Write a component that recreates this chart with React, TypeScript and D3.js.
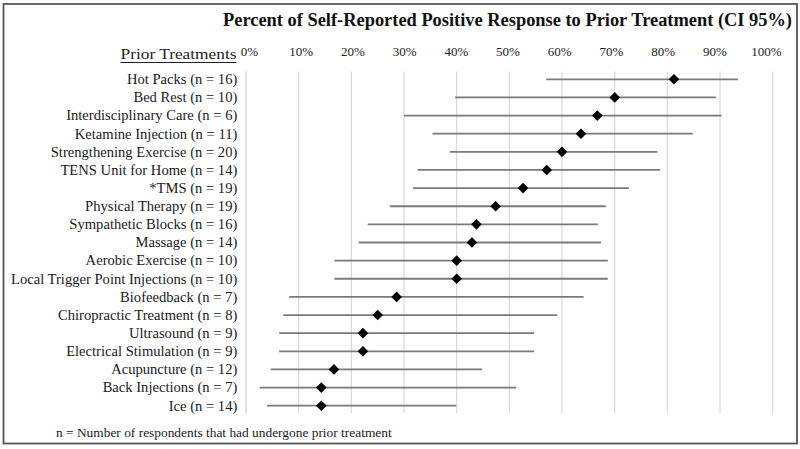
import React from "react";
import * as d3 from "d3";

const categories = [
  "Hot Packs (n = 16)",
  "Bed Rest (n = 10)",
  "Interdisciplinary Care (n = 6)",
  "Ketamine Injection (n = 11)",
  "Strengthening Exercise (n = 20)",
  "TENS Unit for Home (n = 14)",
  "*TMS (n = 19)",
  "Physical Therapy (n = 19)",
  "Sympathetic Blocks (n = 16)",
  "Massage (n = 14)",
  "Aerobic Exercise (n = 10)",
  "Local Trigger Point Injections (n = 10)",
  "Biofeedback (n = 7)",
  "Chiropractic Treatment (n = 8)",
  "Ultrasound (n = 9)",
  "Electrical Stimulation (n = 9)",
  "Acupuncture (n = 12)",
  "Back Injections (n = 7)",
  "Ice (n = 14)",
];

const pointValues = [81.25, 70, 66.7, 63.6, 60, 57.1, 52.6, 47.4, 43.75, 42.9, 40, 40, 28.6, 25, 22.2, 22.2, 16.7, 14.3, 14.3];
const lowerValues = [57.0, 39.7, 30.0, 35.4, 38.7, 32.6, 31.7, 27.3, 23.1, 21.4, 16.8, 16.8, 8.2, 7.1, 6.3, 6.3, 4.7, 2.6, 4.0];
const upperValues = [93.4, 89.2, 90.3, 84.8, 78.1, 78.6, 72.7, 68.3, 66.8, 67.4, 68.7, 68.7, 64.1, 59.1, 54.7, 54.7, 44.8, 51.3, 39.9];
const tickValues = [0, 10, 20, 30, 40, 50, 60, 70, 80, 90, 100];

const titleText = "Percent of Self-Reported Positive Response to Prior Treatment (CI 95%)";
const axisTitle = "Prior Treatments";
const footnote = "n = Number of respondents that had undergone prior treatment";

export default function App() {
  const x = d3.scaleLinear().domain([0, 100]).range([246, 772.7]);
  const xLabel = d3.scaleLinear().domain([0, 100]).range([249.5, 766.5]);
  const y = d3.scalePoint<string>().domain(categories).range([79.3, 405.7]);
  const font = "'Liberation Serif', 'Times New Roman', serif";
  const diamond = d3.symbol().type(d3.symbolDiamond2).size(72)();

  return (
    <svg width={800} height={449} style={{ position: "absolute", left: 0, top: 0, background: "#fff" }} fontFamily={font}>
      <rect x={0} y={0} width={800} height={449} fill="#fff" />
      <rect x={3.5} y={4} width={793.5} height={439.5} fill="none" stroke="#555" strokeWidth={1.8} />
      <text x={792} y={26} textAnchor="end" fontSize={18} fontWeight="bold" fill="#111" textLength={569} lengthAdjust="spacingAndGlyphs">
        {titleText}
      </text>
      {tickValues.map((t) => (
        <line key={"g" + t} x1={x(t)} x2={x(t)} y1={71.5} y2={413} stroke={t === 0 ? "#cfcfcf" : "#dcdcdc"} strokeWidth={1.3} />
      ))}
      {tickValues.map((t) => (
        <text key={"t" + t} x={xLabel(t)} y={56} textAnchor="middle" fontSize={13} fill="#222">
          {t + "%"}
        </text>
      ))}
      <text x={236.5} y={59} textAnchor="end" fontSize={15.5} fill="#222" textLength={116} lengthAdjust="spacingAndGlyphs">
        {axisTitle}
      </text>
      <line x1={120.5} x2={236.5} y1={62.5} y2={62.5} stroke="#222" strokeWidth={1} />
      {categories.map((c, i) => (
        <g key={c}>
          <text x={237.3} y={(y(c) as number) + 4.8} textAnchor="end" fontSize={14.6} fill="#1a1a1a">
            {c}
          </text>
          <line x1={x(lowerValues[i])} x2={x(upperValues[i])} y1={y(c)} y2={y(c)} stroke="#7a7a7a" strokeWidth={1.8} />
          <path d={diamond as string} transform={`translate(${x(pointValues[i])},${y(c)})`} fill="#000" />
        </g>
      ))}
      <text x={56} y={437} fontSize={13.4} fill="#1a1a1a">
        {footnote}
      </text>
    </svg>
  );
}
